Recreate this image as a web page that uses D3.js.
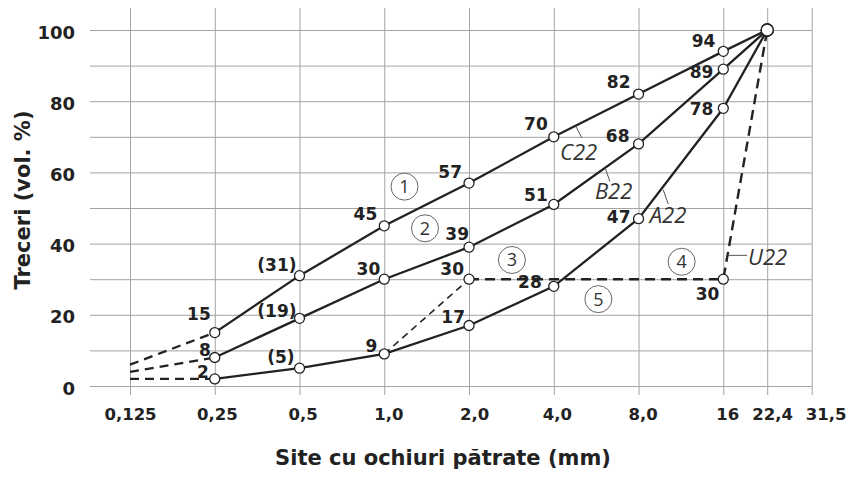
<!DOCTYPE html>
<html>
<head>
<meta charset="utf-8">
<script src="https://cdn.jsdelivr.net/npm/d3@7"></script>
<style>
  html, body { margin: 0; padding: 0; background: #fff; }
  svg { display: block; }
  .axis text { font-family: "DejaVu Sans", sans-serif; font-weight: bold; font-size: 18px; fill: #222; }
  .xaxis text { font-size: 16.5px; }
  .axis line { stroke: #a3a3a3; stroke-width: 1; }
  .axis path { display: none; }
  .val { font-family: "DejaVu Sans", sans-serif; font-weight: bold; font-size: 17px; fill: #222; }
  .title { font-family: "DejaVu Sans", sans-serif; font-weight: bold; font-size: 21px; fill: #222; }
  .name { font-family: "Open Sans", sans-serif; font-style: italic; font-size: 22px; fill: #333; }
  .zone { font-family: "Open Sans", sans-serif; font-size: 18px; fill: #333; }
</style>
</head>
<body>
<svg id="chart" width="851" height="477"></svg>
<script>
// Sieve sizes (mm) and their printed labels
const sieves = [0.125, 0.25, 0.5, 1.0, 2.0, 4.0, 8.0, 16, 22.4, 31.5];
const sieveLabels = ["0,125", "0,25", "0,5", "1,0", "2,0", "4,0", "8,0", "16", "22,4", "31,5"];
const percentTicks = [0, 10, 20, 30, 40, 50, 60, 70, 80, 90, 100];

// Grading curves: passing (vol. %) at each sieve
const curveSieves = [0.25, 0.5, 1.0, 2.0, 4.0, 8.0, 16, 22.4];
const c22 = [15, 31, 45, 57, 70, 82, 94, 100];
const b22 = [8, 19, 30, 39, 51, 68, 89, 100];
const a22 = [2, 5, 9, 17, 28, 47, 78, 100];
const c22Text = ["15", "(31)", "45", "57", "70", "82", "94", null];
const b22Text = ["8", "(19)", "30", "39", "51", "68", "89", null];
const a22Text = ["2", "(5)", "9", "17", "28", "47", "78", null];

// Extension of the curves down to the 0,125 sieve
const fineSieve = 0.125;
const fineC22 = 6, fineB22 = 4, fineA22 = 2;

// Gap-graded curve U22
const u22Sieves = [1.0, 2.0, 16, 22.4];
const u22 = [9, 30, 30, 100];
const u22Text = [null, "30", "30", null];

// Horizontal nudges for the crowded sieve labels on the right
const sieveLabelShift = [0, 2, 3, 4, 5, 3, 4, 4, 5, 14];

// Label placement (dx from the point to the label's right edge, dy to its baseline)
const c22Place = [[-4, -13], [-3, -5], [-7, -6], [-7, -5], [-6, -7], [-8, -6], [-8, -4]];
const b22Place = [[-4, -2], [-3, -1], [-4, -4], [0, -7], [-6, -3], [-9, -2], [-10, 9]];
const a22Place = [[-6, -1], [-5, -5], [-7, -2], [-4, -2], [-12, 2], [-8, 4], [-10, 7]];
const u22Place = [null, [-5, -4], [-4, 21], null];

// Curve names with their leader lines, in sieve / percent units
const names = [
  { text: "C22", x: 4.21, y: 63.5, lead: [[4.8, 72.8], [5.03, 69.7]] },
  { text: "B22", x: 5.6, y: 52.6, lead: [[6.08, 61.4], [6.33, 57.4]] },
  { text: "A22", x: 8.77, y: 45.7, lead: [[9.79, 55.1], [10.2, 51.1]] },
  { text: "U22", x: 19.33, y: 34.0, lead: [[16.59, 36.7], [19.19, 36.7]] }
];
// Numbered zones
const zones = [
  { n: "1", x: 1.18, y: 56.0 },
  { n: "2", x: 1.395, y: 44.3 },
  { n: "3", x: 2.84, y: 35.4 },
  { n: "4", x: 11.38, y: 34.9 },
  { n: "5", x: 5.76, y: 24.4 }
];

const svg = d3.select("#chart");

const x = d3.scaleLog().domain([0.125, 16, 31.5]).range([130, 723.3, 811.7]);
const y = d3.scaleLinear().domain([0, 100]).range([386, 30]);
const gridTop = 8, gridBottom = 395, gridLeft = 90;

// Vertical grid + x labels
const xAxis = d3.axisBottom(x)
  .tickValues(sieves)
  .tickFormat((d, i) => sieveLabels[i])
  .tickSize(-(gridBottom - gridTop))
  .tickPadding(13);
const gx = svg.append("g").attr("class", "axis xaxis")
  .attr("transform", `translate(0,${gridBottom})`)
  .call(xAxis);
gx.selectAll("text").attr("dx", (d, i) => sieveLabelShift[i]);

// Horizontal grid + y labels
const yAxis = d3.axisLeft(y)
  .tickValues(percentTicks)
  .tickFormat(d => d % 20 === 0 ? d : "")
  .tickSize(-(x(31.5) - gridLeft))
  .tickPadding(15);
const gy = svg.append("g").attr("class", "axis")
  .attr("transform", `translate(${gridLeft},0)`)
  .call(yAxis);
gy.selectAll("text").attr("dy", "0.45em");

const line = d3.line().x(d => x(d[0])).y(d => y(d[1]));
const ink = "#222";

// Dashed extensions toward 0,125
[[fineC22, c22[0]], [fineB22, b22[0]], [fineA22, a22[0]]].forEach(([lo, hi]) => {
  svg.append("path")
    .attr("d", line([[fineSieve, lo], [curveSieves[0], hi]]))
    .attr("fill", "none").attr("stroke", ink)
    .attr("stroke-width", 2.3).attr("stroke-dasharray", "9,6");
});

// U22 dashed curve
svg.append("path")
  .attr("d", line(u22Sieves.slice(0, 2).map((s, i) => [s, u22[i]])))
  .attr("fill", "none").attr("stroke", ink)
  .attr("stroke-width", 1.6).attr("stroke-dasharray", "7,5");
svg.append("path")
  .attr("d", line(u22Sieves.slice(1).map((s, i) => [s, u22[i + 1]])))
  .attr("fill", "none").attr("stroke", ink)
  .attr("stroke-width", 2.4).attr("stroke-dasharray", "10,6");

// Solid grading curves
[c22, b22, a22].forEach(vals => {
  svg.append("path")
    .attr("d", line(curveSieves.map((s, i) => [s, vals[i]])))
    .attr("fill", "none").attr("stroke", ink).attr("stroke-width", 2.3);
});

// Point markers
function markers(sv, vals) {
  svg.append("g").selectAll("circle")
    .data(sv.map((s, i) => [s, vals[i]]))
    .join("circle")
    .attr("cx", d => x(d[0])).attr("cy", d => y(d[1]))
    .attr("r", d => d[1] === 100 ? 6 : 5)
    .attr("fill", "#fff").attr("stroke", ink).attr("stroke-width", 1.3);
}
markers(curveSieves, c22);
markers(curveSieves, b22);
markers(curveSieves, a22);
markers(u22Sieves.slice(1, 3), u22.slice(1, 3));

// Value labels
function labels(sv, vals, texts, place) {
  svg.append("g").selectAll("text")
    .data(sv.map((s, i) => ({ s, v: vals[i], t: texts[i], p: place[i] })).filter(d => d.t))
    .join("text")
    .attr("class", "val")
    .attr("text-anchor", "end")
    .attr("x", d => x(d.s) + d.p[0])
    .attr("y", d => y(d.v) + d.p[1])
    .text(d => d.t);
}
labels(curveSieves, c22, c22Text, c22Place);
labels(curveSieves, b22, b22Text, b22Place);
labels(curveSieves, a22, a22Text, a22Place);
labels(u22Sieves, u22, u22Text, u22Place);

// Curve names and leader lines
names.forEach(n => {
  svg.append("line")
    .attr("x1", x(n.lead[0][0])).attr("y1", y(n.lead[0][1]))
    .attr("x2", x(n.lead[1][0])).attr("y2", y(n.lead[1][1]))
    .attr("stroke", "#555").attr("stroke-width", 1);
  svg.append("text").attr("class", "name")
    .attr("x", x(n.x)).attr("y", y(n.y)).text(n.text);
});

// Numbered zones
zones.forEach(z => {
  svg.append("circle")
    .attr("cx", x(z.x)).attr("cy", y(z.y)).attr("r", 13.5)
    .attr("fill", "#fff").attr("stroke", "#666").attr("stroke-width", 1);
  svg.append("text").attr("class", "zone")
    .attr("x", x(z.x)).attr("y", y(z.y))
    .attr("text-anchor", "middle").attr("dy", "0.36em")
    .text(z.n);
});

// Axis titles
svg.append("text").attr("class", "title")
  .attr("text-anchor", "middle")
  .attr("transform", "translate(30,200) rotate(-90)")
  .text("Treceri (vol. %)");
svg.append("text").attr("class", "title")
  .attr("text-anchor", "middle")
  .attr("x", 443).attr("y", 465)
  .text("Site cu ochiuri pătrate (mm)");
</script>
</body>
</html>
